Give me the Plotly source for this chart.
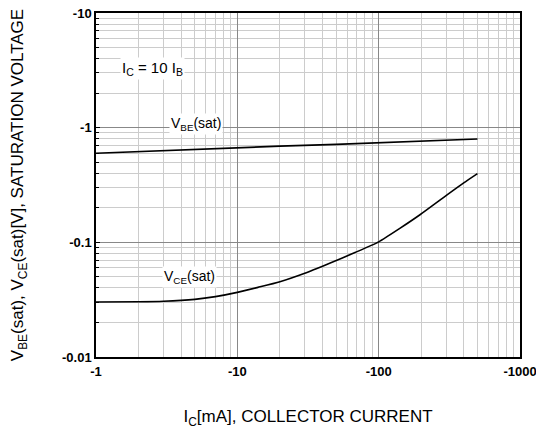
import plotly.graph_objects as go

# Data
vbe_ic = [1, 2, 5, 10, 20, 50, 100, 200, 500]
vbe_v = [0.598, 0.62, 0.65, 0.67, 0.69, 0.715, 0.74, 0.765, 0.797]

vce_ic = [1, 2, 3, 5, 7, 10, 14, 20, 30, 45, 68, 100, 142, 196, 303, 400, 500]
vce_v = [0.0302, 0.0303, 0.0306, 0.0318, 0.0336, 0.0366, 0.0405, 0.0454, 0.0538,
         0.0658, 0.0815, 0.101, 0.133, 0.174, 0.258, 0.330, 0.397]

x_tickvals = [1, 10, 100, 1000]
x_ticktext = ["-1", "-10", "-100", "-1000"]
y_tickvals = [0.01, 0.1, 1, 10]
y_ticktext = ["-0.01", "-0.1", "-1", "-10"]

x_minor = [m * 10 ** d for d in range(0, 3) for m in range(2, 10)]
y_minor = [m * 10 ** d for d in range(-2, 1) for m in range(2, 10)]

FAM = "Arial, Liberation Sans, sans-serif"

fig = go.Figure()
fig.add_trace(go.Scatter(x=vbe_ic, y=vbe_v, mode="lines",
                         line=dict(color="black", width=1.6), showlegend=False))
fig.add_trace(go.Scatter(x=vce_ic, y=vce_v, mode="lines", line_shape="spline",
                         line=dict(color="black", width=1.6, smoothing=0.6),
                         showlegend=False))

fig.add_annotation(x=0.40, y=0.512, xref="x", yref="y",
                   text="I<sub>C</sub> = 10 I<sub>B</sub>", showarrow=False,
                   font=dict(family=FAM, size=15, color="black"), bgcolor="white")
fig.add_annotation(x=0.71, y=0.03, xref="x", yref="y",
                   text="V<sub>BE</sub>(sat)", showarrow=False,
                   font=dict(family=FAM, size=14, color="black"), bgcolor="white")
fig.add_annotation(x=0.665, y=-1.30, xref="x", yref="y",
                   text="V<sub>CE</sub>(sat)", showarrow=False,
                   font=dict(family=FAM, size=14, color="black"), bgcolor="white")

axis_common = dict(
    type="log", showline=True, linecolor="black", linewidth=1.5, mirror=True,
    showgrid=True, gridcolor="#888888", gridwidth=1, zeroline=False,
    automargin=False, ticklabeloverflow="allow",
    tickfont=dict(family=FAM, size=13, color="black", weight="bold"),
)

fig.update_xaxes(**axis_common, range=[0, 3], tickmode="array",
                 tickvals=x_tickvals, ticktext=x_ticktext, ticks="outside",
                 ticklen=2, tickcolor="rgba(0,0,0,0)",
                 minor=dict(tickvals=x_minor, showgrid=True, gridcolor="#cccccc",
                            gridwidth=1, ticks=""),
                 title=dict(text="I<sub>C</sub>[mA], COLLECTOR CURRENT",
                            font=dict(family=FAM, size=17, color="black"),
                            standoff=33))
fig.update_yaxes(**axis_common, range=[-2, 1], tickmode="array",
                 tickvals=y_tickvals, ticktext=y_ticktext, ticks="inside",
                 ticklen=4, tickcolor="black",
                 minor=dict(tickvals=y_minor, showgrid=True, gridcolor="#cccccc",
                            gridwidth=1, ticks="inside", ticklen=3, tickcolor="black"),
                 title=dict(text="V<sub>BE</sub>(sat), V<sub>CE</sub>(sat)[V], SATURATION VOLTAGE",
                            font=dict(family=FAM, size=17, color="black"),
                            standoff=50))

# The page adds an 8px body margin; compensate so the plot area lands where it should
fig.update_layout(
    width=536, height=421,
    margin=dict(l=88, r=24, t=5, b=72),
    plot_bgcolor="white", paper_bgcolor="white",
)

fig.write_html("out.html")
